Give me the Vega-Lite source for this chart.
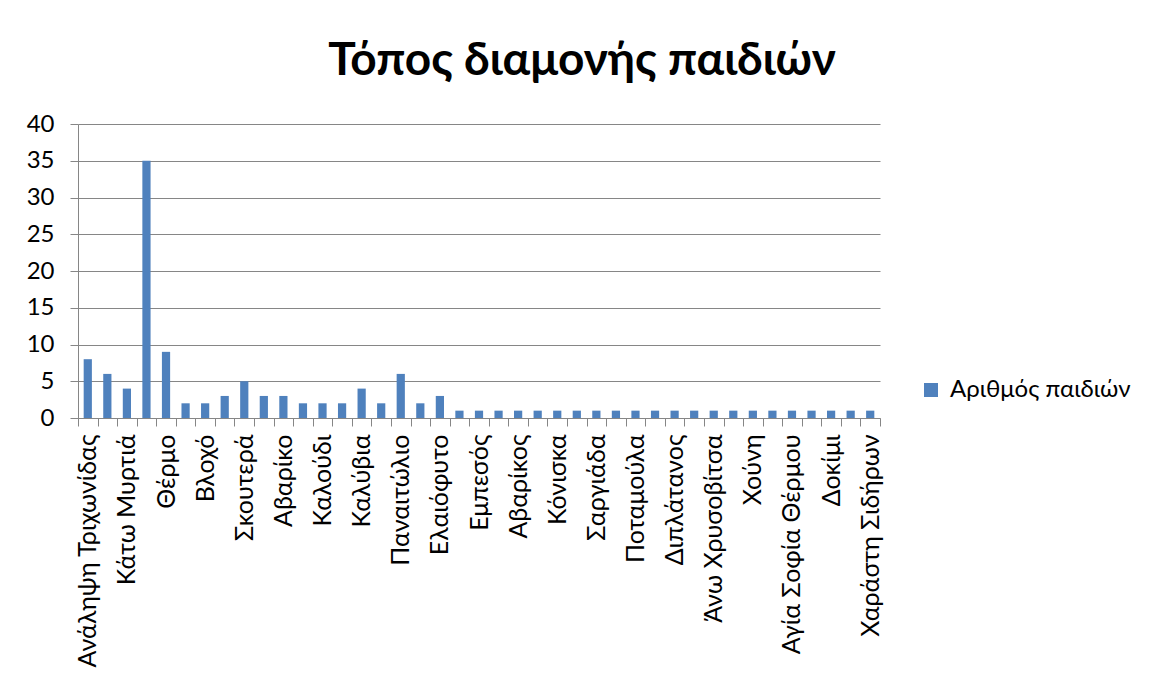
{
  "$schema": "https://vega.github.io/schema/vega-lite/v6.json",
  "width": 802,
  "height": 294,
  "autosize": {"type": "none"},
  "padding": {"left": 78, "top": 124, "right": 269, "bottom": 260},
  "background": "white",
  "title": {
    "text": "Τόπος διαμονής παιδιών",
    "font": "Lato",
    "fontSize": 46,
    "fontWeight": "bold",
    "color": "#000000",
    "anchor": "middle",
    "frame": "group",
    "dx": 103,
    "dy": 43,
    "baseline": "alphabetic",
    "offset": 34
  },
  "config": {
    "view": {"stroke": null},
    "font": "Lato"
  },
  "data": {
    "values": [
      {"place": "Ανάληψη Τριχωνίδας", "count": 8},
      {"place": "κατηγορία 2", "count": 6},
      {"place": "Κάτω Μυρτιά", "count": 4},
      {"place": "κατηγορία 4", "count": 35},
      {"place": "Θέρμο", "count": 9},
      {"place": "κατηγορία 6", "count": 2},
      {"place": "Βλοχό", "count": 2},
      {"place": "κατηγορία 8", "count": 3},
      {"place": "Σκουτερά", "count": 5},
      {"place": "κατηγορία 10", "count": 3},
      {"place": "Αβαρίκο", "count": 3},
      {"place": "κατηγορία 12", "count": 2},
      {"place": "Καλούδι", "count": 2},
      {"place": "κατηγορία 14", "count": 2},
      {"place": "Καλύβια", "count": 4},
      {"place": "κατηγορία 16", "count": 2},
      {"place": "Παναιτώλιο", "count": 6},
      {"place": "κατηγορία 18", "count": 2},
      {"place": "Ελαιόφυτο", "count": 3},
      {"place": "κατηγορία 20", "count": 1},
      {"place": "Εμπεσός", "count": 1},
      {"place": "κατηγορία 22", "count": 1},
      {"place": "Αβαρίκος", "count": 1},
      {"place": "κατηγορία 24", "count": 1},
      {"place": "Κόνισκα", "count": 1},
      {"place": "κατηγορία 26", "count": 1},
      {"place": "Σαργιάδα", "count": 1},
      {"place": "κατηγορία 28", "count": 1},
      {"place": "Ποταμούλα", "count": 1},
      {"place": "κατηγορία 30", "count": 1},
      {"place": "Διπλάτανος", "count": 1},
      {"place": "κατηγορία 32", "count": 1},
      {"place": "Άνω Χρυσοβίτσα", "count": 1},
      {"place": "κατηγορία 34", "count": 1},
      {"place": "Χούνη", "count": 1},
      {"place": "κατηγορία 36", "count": 1},
      {"place": "Αγία Σοφία Θέρμου", "count": 1},
      {"place": "κατηγορία 38", "count": 1},
      {"place": "Δοκίμι", "count": 1},
      {"place": "κατηγορία 40", "count": 1},
      {"place": "Χαράστη Σιδήρων", "count": 1}
    ]
  },
  "mark": {"type": "bar", "width": {"band": 0.42}},
  "encoding": {
    "x": {
      "field": "place",
      "type": "nominal",
      "sort": null,
      "scale": {"paddingInner": 0, "paddingOuter": 0},
      "axis": {
        "title": null,
        "tickBand": "extent",
        "labelAngle": 270,
        "labelFontSize": 25,
        "labelLimit": 0,
        "labelColor": "#000000",
        "labelPadding": 8,
        "labelOverlap": false,
        "labelExpr": "test(/^κατηγορία/, datum.value) ? '' : datum.label",
        "domainColor": "#868686",
        "tickColor": "#868686",
        "tickSize": 8,
        "grid": false
      }
    },
    "y": {
      "field": "count",
      "type": "quantitative",
      "scale": {"domain": [0, 40]},
      "axis": {
        "title": null,
        "values": [0, 5, 10, 15, 20, 25, 30, 35, 40],
        "labelFontSize": 24,
        "labelColor": "#000000",
        "labelPadding": 16,
        "domainColor": "#868686",
        "tickColor": "#868686",
        "tickSize": 8,
        "gridColor": "#868686",
        "gridWidth": 1
      }
    },
    "color": {
      "datum": "Αριθμός παιδιών",
      "type": "nominal",
      "scale": {"range": ["#4F81BD"]},
      "legend": {
        "title": null,
        "orient": "none",
        "legendX": 841,
        "legendY": 254,
        "symbolType": "square",
        "symbolSize": 196,
        "symbolStrokeWidth": 0,
        "labelFontSize": 24,
        "labelLimit": 0,
        "labelColor": "#000000",
        "labelOffset": 7
      }
    }
  }
}
